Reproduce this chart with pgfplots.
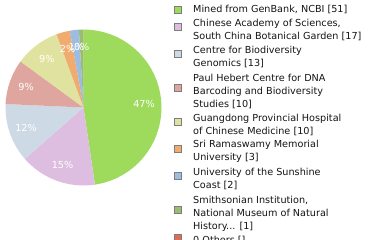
\documentclass[border=0pt]{standalone}
\usepackage{pgfplots}
\pgfplotsset{compat=1.18}
\usepackage{fontspec}
\setmainfont{DejaVu Sans}
\definecolor{c1}{RGB}{158,218,92}
\definecolor{c2}{RGB}{222,190,224}
\definecolor{c3}{RGB}{205,217,229}
\definecolor{c4}{RGB}{222,166,158}
\definecolor{c5}{RGB}{224,227,160}
\definecolor{c6}{RGB}{240,172,110}
\definecolor{c7}{RGB}{157,188,226}
\definecolor{c8}{RGB}{154,190,110}
\definecolor{c9}{RGB}{220,110,85}
\newcommand{\lt}[2]{\node[anchor=base west,inner sep=0pt,font=\fontsize{9.7}{11}\selectfont,text={rgb,255:red,20;green,20;blue,20}] at (193bp,{(240-#1)*1bp}) {#2};}
\newcommand{\sq}[2]{\draw[draw={rgb,255:red,125;green,125;blue,125},line width=0.9bp,fill=#2] (174.5bp,{(240-#1+3.5)*1bp}) rectangle +(7bp,-7bp);}
\begin{document}
\begin{tikzpicture}
\path[use as bounding box] (0,0) rectangle (380bp,240bp);
\clip (0,0) rectangle (380bp,240bp);
\begin{axis}[
  at={(0,0)}, anchor=south west,
  width=380bp, height=240bp, scale only axis,
  xmin=-1.07051, xmax=3.80128, ymin=-1.69872, ymax=1.37821,
  hide axis, clip=false,
]
\addplot[fill=c1, draw=none, data cs=polar] coordinates {(0,0) (90,1) (85,1) (80,1) (75,1) (70,1) (65,1) (60,1) (55,1) (50,1) (45,1) (40,1) (35,1) (30,1) (25,1) (20,1) (15,1) (10,1) (5,1) (0,1) (-5,1) (-10,1) (-15,1) (-20,1) (-25,1) (-30,1) (-35,1) (-40,1) (-45,1) (-50,1) (-55,1) (-60,1) (-65,1) (-70,1) (-75,1) (-80,1) (-81.59,1)} -- cycle;
\addplot[fill=c2, draw=none, data cs=polar] coordinates {(0,0) (-81.59,1) (-85,1) (-90,1) (-95,1) (-100,1) (-105,1) (-110,1) (-115,1) (-120,1) (-125,1) (-130,1) (-135,1) (-138.79,1)} -- cycle;
\addplot[fill=c3, draw=none, data cs=polar] coordinates {(0,0) (-138.79,1) (-140,1) (-145,1) (-150,1) (-155,1) (-160,1) (-165,1) (-170,1) (-175,1) (-180,1) (-182.53,1)} -- cycle;
\addplot[fill=c4, draw=none, data cs=polar] coordinates {(0,0) (-182.53,1) (-185,1) (-190,1) (-195,1) (-200,1) (-205,1) (-210,1) (-215,1) (-216.17,1)} -- cycle;
\addplot[fill=c5, draw=none, data cs=polar] coordinates {(0,0) (-216.17,1) (-220,1) (-225,1) (-230,1) (-235,1) (-240,1) (-245,1) (-249.81,1)} -- cycle;
\addplot[fill=c6, draw=none, data cs=polar] coordinates {(0,0) (-249.81,1) (-253,1) (-256,1) (-259.90,1)} -- cycle;
\addplot[fill=c7, draw=none, data cs=polar] coordinates {(0,0) (-259.90,1) (-263,1) (-266.63,1)} -- cycle;
\addplot[fill=c8, draw=none, data cs=polar] coordinates {(0,0) (-266.63,1) (-268,1) (-270,1)} -- cycle;
\begin{scope}[every node/.style={text=white, font=\fontsize{9.7}{11}\selectfont, inner sep=0pt}]
\node at (axis cs:0.776,0.04) {47\%};
\node at (axis cs:-0.269,-0.732) {15\%};
\node at (axis cs:-0.736,-0.258) {12\%};
\node at (axis cs:-0.736,0.258) {9\%};
\node at (axis cs:-0.470,0.623) {9\%};
\node at (axis cs:-0.204,0.753) {2\%};
\node at (axis cs:-0.0914,0.7746) {1\%};
\node at (axis cs:-0.023,0.78) {0\%};
\end{scope}
\end{axis}
\sq{10}{c1}
\sq{26.7}{c2}
\sq{54}{c3}
\sq{87.7}{c4}
\sq{122}{c5}
\sq{148.7}{c6}
\sq{175.7}{c7}
\sq{209.7}{c8}
\sq{238}{c9}
\lt{12}{Mined from GenBank, NCBI [51]}
\lt{26}{Chinese Academy of Sciences,}
\lt{39}{South China Botanical Garden [17]}
\lt{53}{Centre for Biodiversity}
\lt{66}{Genomics [13]}
\lt{81}{Paul Hebert Centre for DNA}
\lt{94}{Barcoding and Biodiversity}
\lt{107}{Studies [10]}
\lt{121}{Guangdong Provincial Hospital}
\lt{134}{of Chinese Medicine [10]}
\lt{147}{Sri Ramaswamy Memorial}
\lt{160}{University [3]}
\lt{175.5}{University of the Sunshine}
\lt{188}{Coast [2]}
\lt{203}{Smithsonian Institution,}
\lt{216}{National Museum of Natural}
\lt{229}{History... [1]}
\lt{243}{0 Others []}
\end{tikzpicture}
\end{document}
